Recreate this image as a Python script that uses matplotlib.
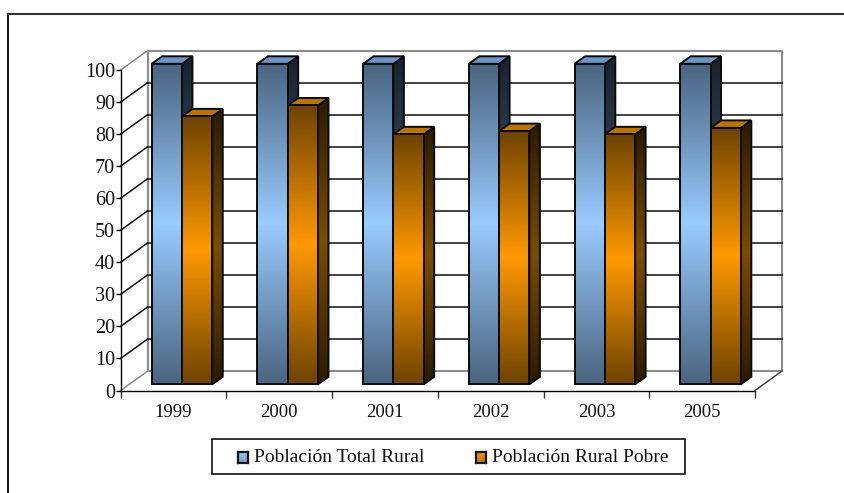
import numpy as np
import matplotlib
matplotlib.use('Agg')
import matplotlib.pyplot as plt
from matplotlib.colors import LinearSegmentedColormap
from matplotlib.patches import Polygon, Rectangle
from matplotlib.transforms import Affine2D

# Datos
years = ['1999', '2000', '2001', '2002', '2003', '2005']
total_rural = [100, 100, 100, 100, 100, 100]
rural_pobre = [83.6, 87, 78, 79, 78, 80]
series_names = ['Población Total Rural', 'Población Rural Pobre']

W, H = 844, 493
plt.rcParams['font.family'] = ['Liberation Serif', 'DejaVu Serif']

# colores del degradado: extremo, centro
blue_front = LinearSegmentedColormap.from_list('bf', ['#4a6480', '#99ccff', '#4a6480'])
blue_side = LinearSegmentedColormap.from_list('bs', ['#18222d', '#3d5266', '#18222d'])
orange_front = LinearSegmentedColormap.from_list('of', ['#6e4300', '#ff9900', '#6e4300'])
orange_side = LinearSegmentedColormap.from_list('os', ['#2a1a00', '#7a4d00', '#2a1a00'])
grad = np.linspace(0, 1, 256).reshape(-1, 1)

fig = plt.figure(figsize=(W / 100, H / 100), dpi=100)

# marco exterior
fig.add_artist(plt.Line2D([8 / W, 8 / W], [0, 1 - 13.5 / H], color='black', lw=1.3))
fig.add_artist(plt.Line2D([8 / W, 1], [1 - 13.5 / H, 1 - 13.5 / H], color='#333333', lw=1.5))

# plano frontal de los ejes, en pixeles
left, right, bottom, top = 120.7, 755.0, 390.5, 70.0
ax = fig.add_axes([left / W, 1 - bottom / H, (right - left) / W, (bottom - top) / H])
ax.set_xlim(0, len(years))
ax.set_ylim(0, 100)
ax.patch.set_alpha(0)
for s in ['top', 'right']:
    ax.spines[s].set_visible(False)
for s in ['left', 'bottom']:
    ax.spines[s].set_linewidth(1.0)
    ax.spines[s].set_color('black')

ax.set_yticks(range(0, 101, 10))
ax.set_xticks(range(len(years) + 1))
ax.set_xticklabels([])
ax.set_xticks(np.arange(len(years)) + 0.5, labels=years, minor=True)
ax.tick_params(axis='y', length=3.5, width=1, labelsize=14.5, pad=0.5)
ax.tick_params(axis='x', which='major', length=5, width=1, color='#333333')
ax.tick_params(axis='x', which='minor', length=0, labelsize=13.5, pad=10)
for lab in ax.get_yticklabels() + ax.get_xticklabels(minor=True):
    lab.set_color('#111111')

# profundidad de la pared y de las barras (pixeles de pantalla, y hacia arriba)
wall = Affine2D().translate(27, 19.5)
bar_shift = Affine2D().translate(8.4, 6.2)
td = ax.transData
wall_t = td + wall
depth_x = 10.5 / ((right - left) / len(years))
depth_y = 7.5 / ((bottom - top) / 100)
bar_w = 30.3 / ((right - left) / len(years))

n = len(years)
# pared y piso
ax.plot([0, 0, n, n, 0], [0, 100, 100, 0, 0], color='#8c8c8c', lw=1.5,
        transform=wall_t, clip_on=False, zorder=1)
for v in range(10, 100, 10):
    ax.plot([0, n], [v, v], color='#222222', lw=1.2, transform=wall_t, clip_on=False, zorder=1)
for v in range(0, 101, 10):
    col = '#8c8c8c' if v in (0, 100) else '#111111'
    ax.plot([0, 27 / ((right - left) / n)], [v, v + 19.5 / ((bottom - top) / 100)],
            color=col, lw=1.1, clip_on=False, zorder=1)
ax.plot([n, n + 27 / ((right - left) / n)], [0, 19.5 / ((bottom - top) / 100)],
        color='#444444', lw=1.1, clip_on=False, zorder=1)


def draw_bar(x0, val, front, side, top_col, z):
    tr = td + bar_shift
    x1 = x0 + bar_w
    # cara lateral
    pts = [(x1, 0), (x1 + depth_x, depth_y), (x1 + depth_x, val + depth_y), (x1, val)]
    im = ax.imshow(grad, cmap=side, extent=(x1, x1 + depth_x, 0, val + depth_y), aspect='auto',
                   transform=tr, zorder=z, origin='lower')
    poly = Polygon(pts, closed=True, transform=tr, facecolor='none', edgecolor='#0a0a0a', lw=1.4,
                   zorder=z + 0.1, clip_on=False)
    ax.add_patch(poly)
    im.set_clip_box(fig.bbox)
    im.set_clip_path(poly)
    # tapa
    ax.add_patch(Polygon([(x0, val), (x0 + depth_x, val + depth_y), (x1 + depth_x, val + depth_y), (x1, val)],
                         closed=True, transform=tr, facecolor=top_col, edgecolor='#0a0a0a', lw=1.4,
                         zorder=z + 0.1, clip_on=False))
    # cara frontal
    ax.imshow(grad, cmap=front, extent=(x0, x1, 0, val), aspect='auto', transform=tr, zorder=z + 0.2,
              origin='lower', clip_on=False)
    ax.add_patch(Rectangle((x0, 0), bar_w, val, transform=tr, facecolor='none', edgecolor='#0a0a0a',
                           lw=1.4, zorder=z + 0.3, clip_on=False))


for i in range(n):
    draw_bar(i + 0.5 - bar_w, total_rural[i], blue_front, blue_side, '#6a97c6', 3 + i)
    draw_bar(i + 0.5, rural_pobre[i], orange_front, orange_side, '#b87300', 3.5 + i)

ax.set_xlim(0, n)
ax.set_ylim(0, 100)

# leyenda
fig.add_artist(Rectangle((212.3 / W, 1 - 474 / H), 472.5 / W, 34.7 / H, transform=fig.transFigure,
                         facecolor='white', edgecolor='#111111', lw=1.2))
leg_items = [(237.5, 254, series_names[0], blue_front), (475.5, 492, series_names[1], orange_front)]
for x_sw, x_txt, name, cm in leg_items:
    sw = fig.add_axes([x_sw / W, 1 - 462.5 / H, 10.5 / W, 11 / H])
    sw.set_zorder(2)
    sw.imshow(grad, cmap=LinearSegmentedColormap.from_list('s', [cm(0.5), cm(0.3)]), aspect='auto', origin='upper')
    sw.set_xticks([])
    sw.set_yticks([])
    for s in sw.spines.values():
        s.set_linewidth(1.6)
        s.set_color('#111111')
    fig.text(x_txt / W, 1 - 457 / H, name, fontsize=14, va='center', ha='left', color='#111111')

fig.savefig('out.png', dpi=100)
